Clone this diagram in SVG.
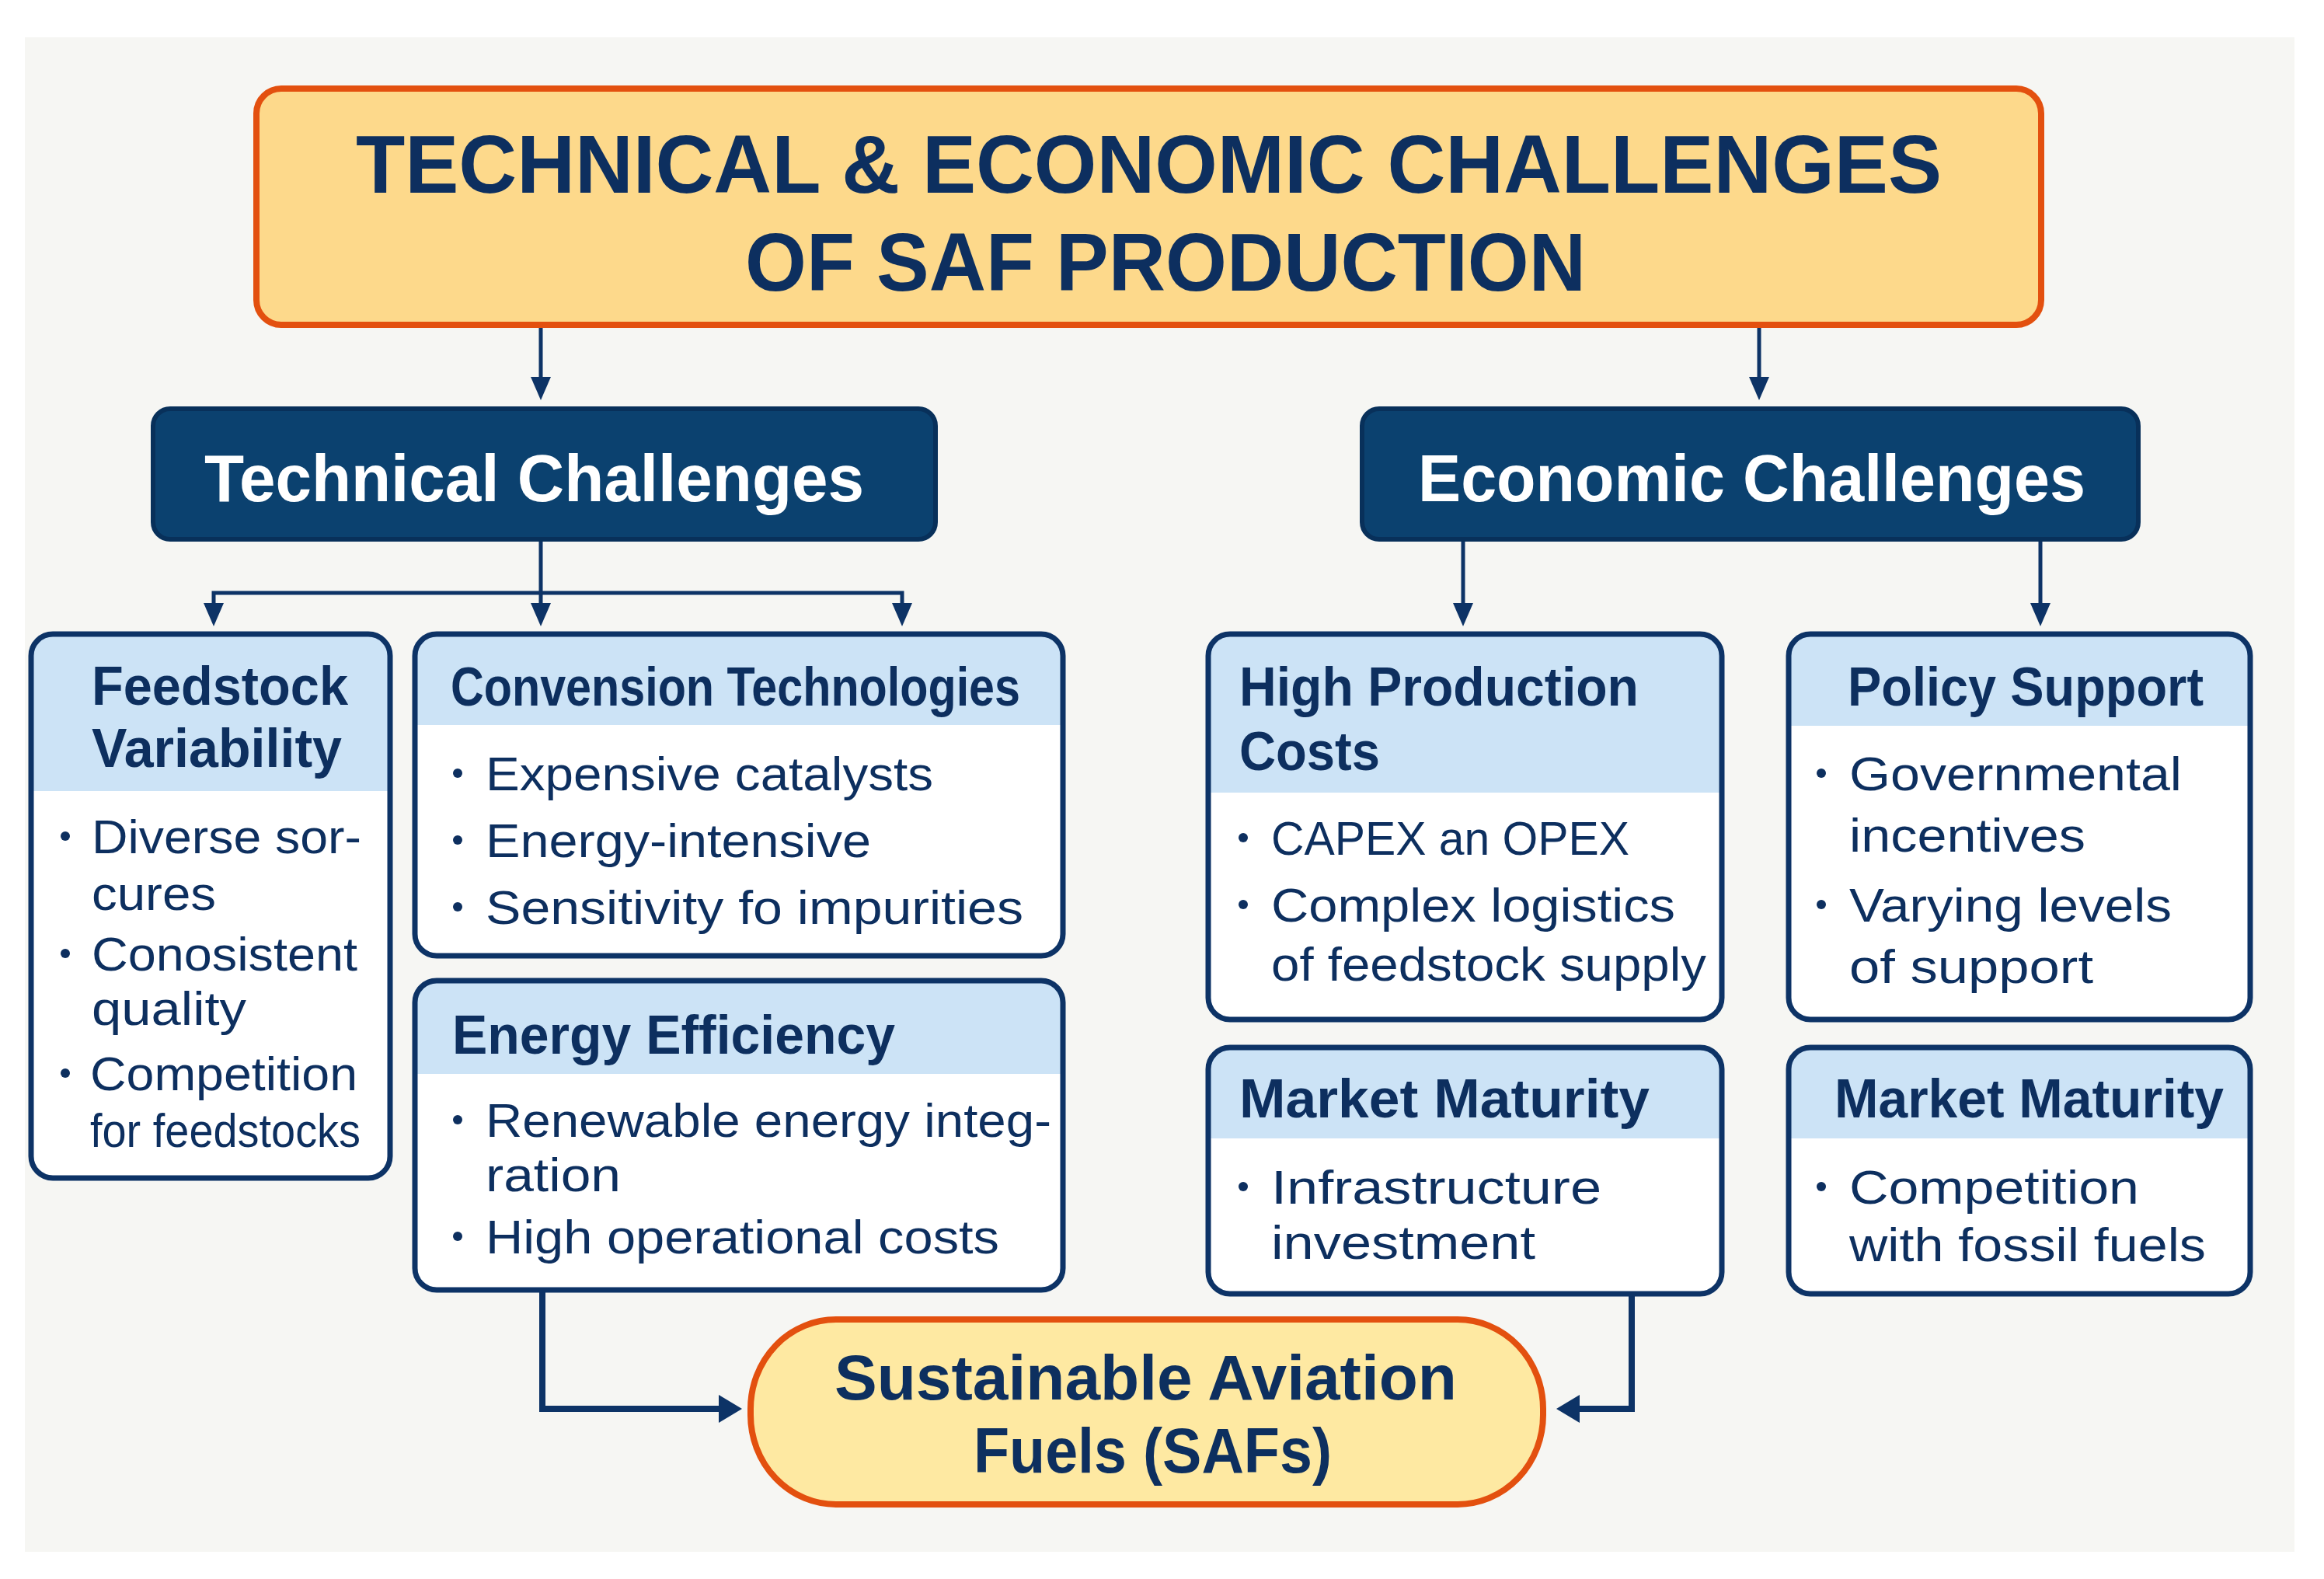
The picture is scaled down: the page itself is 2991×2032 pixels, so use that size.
<svg xmlns="http://www.w3.org/2000/svg" width="2991" height="2032" viewBox="0 0 2991 2032">
<style>
.txt{font-family:"Liberation Sans","Open Sans",Arial,sans-serif;fill:#0d2f5f}
.title{font-weight:700;font-size:106px}
.sub{font-weight:700;font-size:86px;fill:#ffffff}
.hd{font-weight:700;font-size:70px}
.bd{font-weight:400;font-size:62px}
.saf{font-weight:700;font-size:82px}
.box{fill:none;stroke:#0d3366;stroke-width:7}
.band{fill:#cce3f6}
.body{fill:#ffffff}
.dot{fill:#0d2f5f}
.con{fill:none;stroke:#0d3366;stroke-width:5}
.con2{fill:none;stroke:#0d3366;stroke-width:8}
</style>
<defs>
<marker id="ah" markerUnits="userSpaceOnUse" viewBox="0 0 30 30" markerWidth="30" markerHeight="30" refX="20" refY="15" orient="auto">
<path d="M0,2 L30,15 L0,28 Z" fill="#0d3366"/>
</marker>
<marker id="ah2" markerUnits="userSpaceOnUse" viewBox="0 0 30 36" markerWidth="30" markerHeight="36" refX="18" refY="18" orient="auto">
<path d="M0,0 L30,18 L0,36 Z" fill="#0d3366"/>
</marker>
</defs>
<rect x="0" y="0" width="2991" height="2032" fill="#ffffff"/>
<rect x="32" y="48" width="2921" height="1949" fill="#f6f6f3"/>

<g id="connectors">
<path class="con" d="M696,420 V505" marker-end="url(#ah)"/>
<path class="con" d="M2264,420 V505" marker-end="url(#ah)"/>
<path class="con" d="M696,695 V763"/>
<path class="con" d="M275,796 V763 H1161 V796" />
<path class="con" d="M275,780 V796" marker-end="url(#ah)"/>
<path class="con" d="M696,763 V796" marker-end="url(#ah)"/>
<path class="con" d="M1161,780 V796" marker-end="url(#ah)"/>
<path class="con" d="M1883,695 V796" marker-end="url(#ah)"/>
<path class="con" d="M2626,695 V796" marker-end="url(#ah)"/>
<path class="con2" d="M698,1661 V1813 H943" marker-end="url(#ah2)"/>
<path class="con2" d="M2100,1666 V1813 H2015" marker-end="url(#ah2)"/>
</g>

<g id="title">
<rect x="330" y="114" width="2297" height="304" rx="32" fill="#fdd98b" stroke="#e3500f" stroke-width="8"/>
<text class="txt title" x="458" y="248" textLength="2041" lengthAdjust="spacingAndGlyphs">TECHNICAL &amp; ECONOMIC CHALLENGES</text>
<text class="txt title" x="959" y="374" textLength="1082" lengthAdjust="spacingAndGlyphs">OF SAF PRODUCTION</text>
</g>

<g id="technical">
<rect x="197" y="526" width="1007" height="168" rx="22" fill="#0b416f" stroke="#08305a" stroke-width="6"/>
<text class="txt sub" x="263" y="645" textLength="849" lengthAdjust="spacingAndGlyphs">Technical Challenges</text>
</g>

<g id="economic">
<rect x="1753" y="526" width="999" height="168" rx="22" fill="#0b416f" stroke="#08305a" stroke-width="6"/>
<text class="txt sub" x="1825" y="645" textLength="859" lengthAdjust="spacingAndGlyphs">Economic Challenges</text>
</g>

<g id="feedstock">
<rect class="body" x="40" y="816" width="462" height="700" rx="28"/>
<path class="band" d="M43,1018 V844 A25,25 0 0 1 68,819 H474 A25,25 0 0 1 499,844 V1018 Z"/>
<rect class="box" x="40" y="816" width="462" height="700" rx="28"/>
<text class="txt hd" x="118" y="907" textLength="330" lengthAdjust="spacingAndGlyphs">Feedstock</text>
<text class="txt hd" x="118" y="987" textLength="322" lengthAdjust="spacingAndGlyphs">Variability</text>
<circle class="dot" cx="84" cy="1076" r="6"/>
<text class="txt bd" x="118" y="1098" textLength="347" lengthAdjust="spacingAndGlyphs">Diverse sor-</text>
<text class="txt bd" x="118" y="1171" textLength="160" lengthAdjust="spacingAndGlyphs">cures</text>
<circle class="dot" cx="84" cy="1227" r="6"/>
<text class="txt bd" x="118" y="1249" textLength="342" lengthAdjust="spacingAndGlyphs">Conosistent</text>
<text class="txt bd" x="118" y="1319" textLength="199" lengthAdjust="spacingAndGlyphs">quality</text>
<circle class="dot" cx="84" cy="1381" r="6"/>
<text class="txt bd" x="116" y="1403" textLength="344" lengthAdjust="spacingAndGlyphs">Competition</text>
<text class="txt bd" x="116" y="1476" textLength="348" lengthAdjust="spacingAndGlyphs">for feedstocks</text>
</g>

<g id="conversion">
<rect class="body" x="534" y="816" width="834" height="414" rx="28"/>
<path class="band" d="M537,933 V844 A25,25 0 0 1 562,819 H1340 A25,25 0 0 1 1365,844 V933 Z"/>
<rect class="box" x="534" y="816" width="834" height="414" rx="28"/>
<text class="txt hd" x="580" y="908" textLength="733" lengthAdjust="spacingAndGlyphs">Convension Technologies</text>
<circle class="dot" cx="589" cy="995" r="6"/>
<text class="txt bd" x="625" y="1017" textLength="576" lengthAdjust="spacingAndGlyphs">Expensive catalysts</text>
<circle class="dot" cx="589" cy="1081" r="6"/>
<text class="txt bd" x="625" y="1103" textLength="496" lengthAdjust="spacingAndGlyphs">Energy-intensive</text>
<circle class="dot" cx="589" cy="1167" r="6"/>
<text class="txt bd" x="625" y="1189" textLength="692" lengthAdjust="spacingAndGlyphs">Sensitivity fo impurities</text>
</g>

<g id="energy">
<rect class="body" x="534" y="1262" width="834" height="398" rx="28"/>
<path class="band" d="M537,1382 V1290 A25,25 0 0 1 562,1265 H1340 A25,25 0 0 1 1365,1290 V1382 Z"/>
<rect class="box" x="534" y="1262" width="834" height="398" rx="28"/>
<text class="txt hd" x="582" y="1356" textLength="570" lengthAdjust="spacingAndGlyphs">Energy Efficiency</text>
<circle class="dot" cx="589" cy="1441" r="6"/>
<text class="txt bd" x="625" y="1463" textLength="728" lengthAdjust="spacingAndGlyphs">Renewable energy integ-</text>
<text class="txt bd" x="625" y="1533" textLength="174" lengthAdjust="spacingAndGlyphs">ration</text>
<circle class="dot" cx="589" cy="1591" r="6"/>
<text class="txt bd" x="625" y="1613" textLength="661" lengthAdjust="spacingAndGlyphs">High operational costs</text>
</g>

<g id="production">
<rect class="body" x="1555" y="816" width="661" height="496" rx="28"/>
<path class="band" d="M1558,1020 V844 A25,25 0 0 1 1583,819 H2188 A25,25 0 0 1 2213,844 V1020 Z"/>
<rect class="box" x="1555" y="816" width="661" height="496" rx="28"/>
<text class="txt hd" x="1595" y="908" textLength="514" lengthAdjust="spacingAndGlyphs">High Production</text>
<text class="txt hd" x="1595" y="991" textLength="181" lengthAdjust="spacingAndGlyphs">Costs</text>
<circle class="dot" cx="1600" cy="1078" r="6"/>
<text class="txt bd" x="1636" y="1100" textLength="461" lengthAdjust="spacingAndGlyphs">CAPEX an OPEX</text>
<circle class="dot" cx="1600" cy="1164" r="6"/>
<text class="txt bd" x="1636" y="1186" textLength="520" lengthAdjust="spacingAndGlyphs">Complex logistics</text>
<text class="txt bd" x="1636" y="1262" textLength="560" lengthAdjust="spacingAndGlyphs">of feedstock supply</text>
</g>

<g id="policy">
<rect class="body" x="2302" y="816" width="594" height="496" rx="28"/>
<path class="band" d="M2305,934 V844 A25,25 0 0 1 2330,819 H2868 A25,25 0 0 1 2893,844 V934 Z"/>
<rect class="box" x="2302" y="816" width="594" height="496" rx="28"/>
<text class="txt hd" x="2378" y="908" textLength="458" lengthAdjust="spacingAndGlyphs">Policy Support</text>
<circle class="dot" cx="2344" cy="995" r="6"/>
<text class="txt bd" x="2380" y="1017" textLength="428" lengthAdjust="spacingAndGlyphs">Governmental</text>
<text class="txt bd" x="2380" y="1096" textLength="304" lengthAdjust="spacingAndGlyphs">incentives</text>
<circle class="dot" cx="2344" cy="1164" r="6"/>
<text class="txt bd" x="2380" y="1186" textLength="415" lengthAdjust="spacingAndGlyphs">Varying levels</text>
<text class="txt bd" x="2380" y="1265" textLength="314" lengthAdjust="spacingAndGlyphs">of support</text>
</g>

<g id="market-left">
<rect class="body" x="1555" y="1348" width="661" height="317" rx="28"/>
<path class="band" d="M1558,1465 V1376 A25,25 0 0 1 1583,1351 H2188 A25,25 0 0 1 2213,1376 V1465 Z"/>
<rect class="box" x="1555" y="1348" width="661" height="317" rx="28"/>
<text class="txt hd" x="1595" y="1438" textLength="528" lengthAdjust="spacingAndGlyphs">Market Maturity</text>
<circle class="dot" cx="1600" cy="1527" r="6"/>
<text class="txt bd" x="1636" y="1549" textLength="425" lengthAdjust="spacingAndGlyphs">Infrastructure</text>
<text class="txt bd" x="1636" y="1620" textLength="340" lengthAdjust="spacingAndGlyphs">investment</text>
</g>

<g id="market-right">
<rect class="body" x="2302" y="1348" width="594" height="317" rx="28"/>
<path class="band" d="M2305,1465 V1376 A25,25 0 0 1 2330,1351 H2868 A25,25 0 0 1 2893,1376 V1465 Z"/>
<rect class="box" x="2302" y="1348" width="594" height="317" rx="28"/>
<text class="txt hd" x="2361" y="1438" textLength="501" lengthAdjust="spacingAndGlyphs">Market Maturity</text>
<circle class="dot" cx="2344" cy="1527" r="6"/>
<text class="txt bd" x="2380" y="1549" textLength="373" lengthAdjust="spacingAndGlyphs">Competition</text>
<text class="txt bd" x="2380" y="1623" textLength="459" lengthAdjust="spacingAndGlyphs">with fossil fuels</text>
</g>

<g id="saf">
<rect x="966" y="1698" width="1020" height="238" rx="110" ry="115" fill="#fee9a2" stroke="#e3500f" stroke-width="8"/>
<text class="txt saf" x="1074" y="1801" textLength="801" lengthAdjust="spacingAndGlyphs">Sustainable Aviation</text>
<text class="txt saf" x="1253" y="1895" textLength="461" lengthAdjust="spacingAndGlyphs">Fuels (SAFs)</text>
</g>
</svg>
